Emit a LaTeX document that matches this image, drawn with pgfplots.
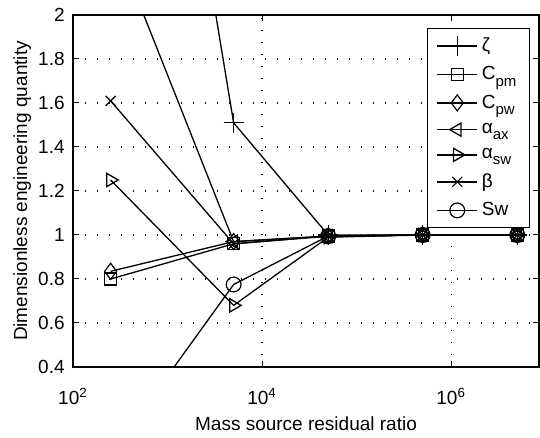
\documentclass[border=0pt]{standalone}
\usepackage{pgfplots}
\pgfplotsset{compat=1.18}
\usepackage{fontspec}
\setmainfont{Liberation Sans}
\newcommand{\sub}[1]{\raisebox{-3.2pt}{\fontsize{7.5}{8}\selectfont #1}}

\begin{document}
\begin{tikzpicture}
  \begin{axis}[
    scale only axis,
    width=233pt, height=176pt,
    xmode=log,
    xmin=100, xmax=8.5e6,
    ymin=0.4, ymax=2,
    xtick={1e2,1e4,1e6},
    xticklabels={10\textsuperscript{2},10\textsuperscript{4},10\textsuperscript{6}},
    minor xtick={},
    ytick={0.4,0.6,0.8,1,1.2,1.4,1.6,1.8,2},
    yticklabels={0.4,0.6,0.8,1,1.2,1.4,1.6,1.8,2},
    tick align=inside,
    major tick length=3pt,
    tick style={black, line width=0.5pt},
    xticklabel style={anchor=base, yshift=-19pt, inner sep=0pt},
    yticklabel style={anchor=east, xshift=-4pt, inner sep=0pt},
    tick label style={font=\fontsize{9.5}{10}\selectfont},
    label style={font=\fontsize{9.5}{10}\selectfont},
    xlabel={Mass source residual ratio},
    ylabel={Dimensionless engineering quantity},
    xlabel style={at={(axis description cs:0.5,0)}, anchor=base, yshift=-32pt, inner sep=0pt},
    ylabel style={at={(axis description cs:-0.0987,0.5)}, anchor=base, inner sep=0pt},
    grid=major,
    major grid style={black, line width=0.6pt, dash pattern=on 0.6pt off 5.4pt},
    axis line style={line width=0.7pt},
    every axis plot/.append style={black, line width=0.65pt, mark size=3pt,
      mark options={solid, fill=none, line width=0.6pt}},
    legend style={at={(0.981,0.963)}, anchor=north east,
      font=\fontsize{9.5}{11}\selectfont, draw=black, line width=0.7pt,
      row sep=2.0pt, inner xsep=4.5pt, inner ysep=2.5pt,
      cells={anchor=west}},
    legend image code/.code={
      \draw[mark repeat=2, mark phase=2, #1]
        plot coordinates {(0pt,0pt) (10pt,0pt) (20pt,0pt)};
    },
  ]
    % zeta
    \addplot[mark=+, mark size=5pt] coordinates {
      (250,4.9) (5000,1.51) (50000,1.0) (500000,1.0) (5000000,1.0)};
    % C_pm
    \addplot[mark=square, mark size=3pt] coordinates {
      (250,0.80) (5000,0.96) (50000,0.995) (500000,1.0) (5000000,1.0)};
    % C_pw
    \addplot[mark=diamond, mark size=4pt] coordinates {
      (250,0.835) (5000,0.97) (50000,0.995) (500000,1.0) (5000000,1.0)};
    % alpha_ax
    \addplot[mark=triangle, mark options={rotate=90}, mark size=3.8pt] coordinates {
      (250,2.38) (5000,0.97) (50000,0.995) (500000,1.0) (5000000,1.0)};
    % alpha_sw
    \addplot[mark=triangle, mark options={rotate=-90}, mark size=3.8pt] coordinates {
      (250,1.25) (5000,0.68) (50000,0.99) (500000,1.0) (5000000,1.0)};
    % beta
    \addplot[mark=x, mark size=3.5pt] coordinates {
      (250,1.61) (5000,0.96) (50000,0.995) (500000,1.0) (5000000,1.0)};
    % Sw
    \addplot[mark=o, mark size=3.7pt] coordinates {
      (250,0.0) (5000,0.775) (50000,0.995) (500000,1.0) (5000000,1.0)};
    \legend{ζ, C\sub{pm}, C\sub{pw}, α\sub{ax}, α\sub{sw}, β, Sw}
  \end{axis}
  \pgfresetboundingbox
  \path ([xshift=-36.5pt,yshift=-35.5pt]current axis.south west)
    rectangle ([xshift=0.5pt,yshift=7.5pt]current axis.north east);
\end{tikzpicture}
\end{document}
